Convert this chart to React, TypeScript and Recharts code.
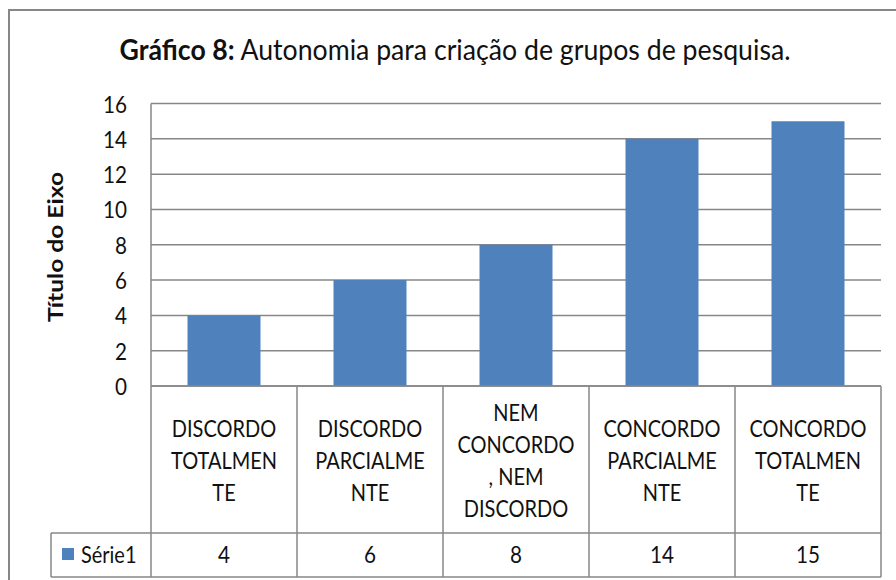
import React from 'react';
import { BarChart, Bar, XAxis, YAxis, CartesianGrid } from 'recharts';

const categories = [
  'DISCORDO TOTALMENTE',
  'DISCORDO PARCIALMENTE',
  'NEM CONCORDO, NEM DISCORDO',
  'CONCORDO PARCIALMENTE',
  'CONCORDO TOTALMENTE',
];
const categoryLines = [
  ['DISCORDO', 'TOTALMEN', 'TE'],
  ['DISCORDO', 'PARCIALME', 'NTE'],
  ['NEM', 'CONCORDO', ', NEM', 'DISCORDO'],
  ['CONCORDO', 'PARCIALME', 'NTE'],
  ['CONCORDO', 'TOTALMEN', 'TE'],
];
const series1 = [4, 6, 8, 14, 15];
const seriesName = 'Série1';
const yTicks = [0, 2, 4, 6, 8, 10, 12, 14, 16];
const chartTitleBold = 'Gráfico 8:';
const chartTitleRest = ' Autonomia para criação de grupos de pesquisa.';
const yAxisTitle = 'Título do Eixo';

const data = categories.map((c, i) => ({ category: c, value: series1[i] }));

const W = 896;
const H = 580;
const PLOT_LEFT = 151;
const PLOT_RIGHT = 881;
const PLOT_TOP = 103.5;
const PLOT_BOTTOM = 386;
const ROW_SPLIT = 533;
const TABLE_BOTTOM = 577;
const LEGEND_LEFT = 51;
const Y_AXIS_W = 60;
const X_AXIS_H = TABLE_BOTTOM - PLOT_BOTTOM;
const margin = {
  top: PLOT_TOP,
  right: W - PLOT_RIGHT,
  bottom: H - TABLE_BOTTOM,
  left: PLOT_LEFT - Y_AXIS_W,
};
const FONT = "Lato, 'Open Sans', sans-serif";
const GRID = '#878787';
const BAR = '#4F81BD';
const TEXT = '#111';
const LINE_H = 32;
const FS = 23.5;
const SX = 0.85;

const CText = ({ x, y, anchor = 'middle', size = FS, sx = SX, children }: any) => (
  <text
    transform={`translate(${x},${y}) scale(${sx},1)`}
    x={0}
    y={0}
    textAnchor={anchor}
    dominantBaseline="central"
    fontFamily={FONT}
    fontSize={size}
    fill={TEXT}
  >
    {children}
  </text>
);

const YTick = (props: any) => {
  const { x, y, payload } = props;
  return (
    <CText x={x} y={y} anchor="end" sx={0.88}>
      {payload.value}
    </CText>
  );
};

const TableTick = (props: any) => {
  const { x, index } = props;
  const bw = (PLOT_RIGHT - PLOT_LEFT) / categories.length;
  const left = x - bw / 2;
  const right = x + bw / 2;
  const lines = categoryLines[index] || [];
  const mid = (PLOT_BOTTOM + ROW_SPLIT) / 2;
  const start = mid - ((lines.length - 1) * LINE_H) / 2;
  const valMid = (ROW_SPLIT + TABLE_BOTTOM) / 2 - 1;
  const ls = { stroke: GRID, strokeWidth: 1.5 };
  return (
    <g>
      {index === 0 && (
        <g>
          <line x1={left} y1={PLOT_BOTTOM} x2={left} y2={TABLE_BOTTOM} {...ls} />
          <line x1={LEGEND_LEFT} y1={ROW_SPLIT} x2={left} y2={ROW_SPLIT} {...ls} />
          <line x1={LEGEND_LEFT} y1={TABLE_BOTTOM} x2={left} y2={TABLE_BOTTOM} {...ls} />
          <line x1={LEGEND_LEFT} y1={ROW_SPLIT} x2={LEGEND_LEFT} y2={TABLE_BOTTOM} {...ls} />
          <rect x={LEGEND_LEFT + 11} y={valMid - 6} width={12} height={12} fill={BAR} />
          <CText x={LEGEND_LEFT + 30} y={valMid} anchor="start">
            {seriesName}
          </CText>
        </g>
      )}
      <line x1={right} y1={PLOT_BOTTOM} x2={right} y2={TABLE_BOTTOM} {...ls} />
      <line x1={left} y1={ROW_SPLIT} x2={right} y2={ROW_SPLIT} {...ls} />
      <line x1={left} y1={TABLE_BOTTOM} x2={right} y2={TABLE_BOTTOM} {...ls} />
      {lines.map((t, i) => (
        <CText key={i} x={x} y={start + i * LINE_H}>
          {t}
        </CText>
      ))}
      <CText x={x} y={valMid} sx={0.88}>
        {series1[index]}
      </CText>
    </g>
  );
};

export default function App() {
  return (
    <div style={{ position: 'absolute', left: 0, top: 0, width: W, height: H, background: '#fff' }}>
      <BarChart width={W} height={H} data={data} margin={margin} barCategoryGap="25%">
        <CartesianGrid vertical={false} stroke={GRID} strokeWidth={1.5} />
        <XAxis
          dataKey="category"
          height={X_AXIS_H}
          interval={0}
          tickLine={false}
          axisLine={{ stroke: GRID, strokeWidth: 1.5 }}
          tick={(p: any) => <TableTick {...p} />}
        />
        <YAxis
          width={Y_AXIS_W}
          domain={[0, 16]}
          ticks={yTicks}
          interval={0}
          tickLine={false}
          tickSize={0}
          tickMargin={24}
          axisLine={{ stroke: GRID, strokeWidth: 1.5 }}
          tick={(p: any) => <YTick {...p} />}
        />
        <Bar dataKey="value" name={seriesName} fill={BAR} isAnimationActive={false} />
      </BarChart>
      <svg
        width={W}
        height={H}
        style={{ position: 'absolute', left: 0, top: 0, pointerEvents: 'none' }}
      >
        <rect x={9} y={10} width={W} height={H} fill="none" stroke={GRID} strokeWidth={2} />
        <text
          transform="translate(455,60) scale(0.92,1)"
          x={0}
          y={0}
          textAnchor="middle"
          fontFamily={FONT}
          fontSize={29}
          fill={TEXT}
        >
          <tspan fontWeight="bold">{chartTitleBold}</tspan>
          <tspan>{chartTitleRest}</tspan>
        </text>
        <text
          transform="translate(63,247) rotate(-90)"
          x={0}
          y={0}
          textAnchor="middle"
          fontFamily={FONT}
          fontWeight="bold"
          fontSize={21.5}
          fill={TEXT}
          textLength={150}
          lengthAdjust="spacingAndGlyphs"
        >
          {yAxisTitle}
        </text>
      </svg>
    </div>
  );
}
